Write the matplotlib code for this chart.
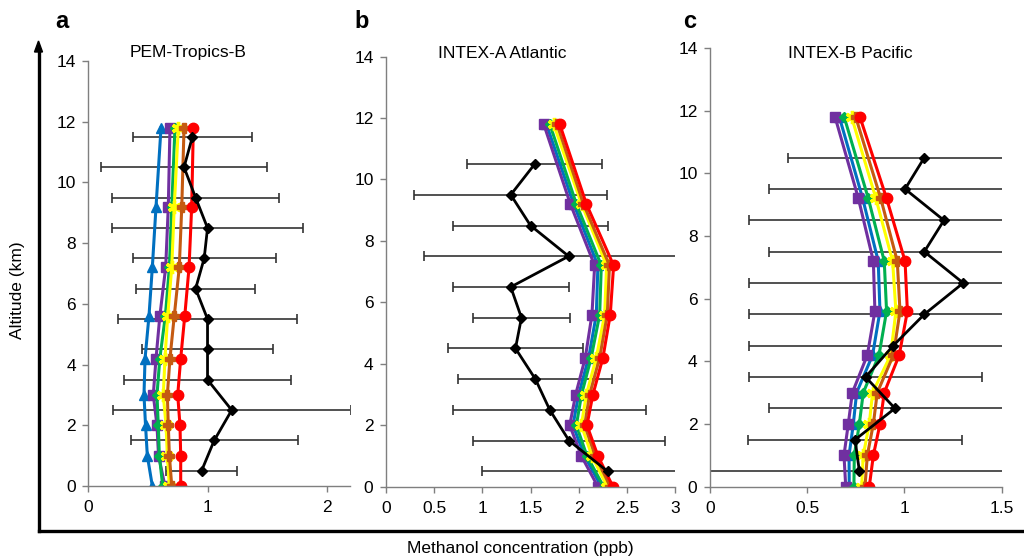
import matplotlib
matplotlib.use("Agg")
import matplotlib.pyplot as plt
from matplotlib.lines import Line2D

plt.rcParams['font.family'] = ['Liberation Sans', 'DejaVu Sans']

# ---------------- data ----------------
levels = [0, 1, 2, 3, 4.2, 5.6, 7.2, 9.2, 11.8]
obs_alt_a = [0.5, 1.5, 2.5, 3.5, 4.5, 5.5, 6.5, 7.5, 8.5, 9.5, 10.5, 11.5]
obs_alt_bc = [0.5, 1.5, 2.5, 3.5, 4.5, 5.5, 6.5, 7.5, 8.5, 9.5, 10.5]

series_names = ["blue", "purple", "green", "yellow", "orange", "red"]

a_blue = [0.537, 0.495, 0.48, 0.467, 0.476, 0.509, 0.537, 0.568, 0.61]
a_purple = [0.643, 0.589, 0.576, 0.545, 0.568, 0.60, 0.649, 0.671, 0.685]
a_green = [0.624, 0.596, 0.587, 0.576, 0.60, 0.646, 0.68, 0.70, 0.727]
a_yellow = [0.68, 0.663, 0.652, 0.629, 0.643, 0.666, 0.70, 0.721, 0.755]
a_orange = [0.70, 0.68, 0.671, 0.663, 0.685, 0.721, 0.763, 0.784, 0.803]
a_red = [0.775, 0.775, 0.769, 0.75, 0.775, 0.809, 0.845, 0.867, 0.881]
a_obs = [0.95, 1.056, 1.203, 1.0, 1.0, 1.0, 0.90, 0.972, 1.0, 0.90, 0.803, 0.873]
a_std = [0.30, 0.70, 1.0, 0.70, 0.55, 0.75, 0.50, 0.60, 0.80, 0.70, 0.70, 0.50]

b_blue = [2.235, 2.062, 1.941, 2.0, 2.104, 2.183, 2.20, 1.948, 1.665]
b_purple = [2.20, 2.028, 1.907, 1.969, 2.069, 2.138, 2.166, 1.914, 1.637]
b_green = [2.259, 2.086, 1.976, 2.03, 2.13, 2.218, 2.235, 1.976, 1.70]
b_yellow = [2.297, 2.138, 2.028, 2.08, 2.183, 2.27, 2.29, 2.03, 1.74]
b_orange = [2.328, 2.173, 2.062, 2.114, 2.218, 2.297, 2.32, 2.05, 1.775]
b_red = [2.356, 2.20, 2.086, 2.148, 2.252, 2.328, 2.363, 2.08, 1.803]
b_obs = [2.30, 1.90, 1.70, 1.551, 1.344, 1.406, 1.295, 1.896, 1.50, 1.295, 1.544]
b_std = [1.3, 1.0, 1.0, 0.80, 0.70, 0.50, 0.60, 1.50, 0.80, 1.0, 0.70]

c_blue = [0.716, 0.715, 0.737, 0.754, 0.836, 0.874, 0.865, 0.785, 0.665]
c_purple = [0.698, 0.689, 0.711, 0.732, 0.809, 0.848, 0.84, 0.763, 0.643]
c_green = [0.74, 0.742, 0.768, 0.788, 0.869, 0.908, 0.896, 0.814, 0.69]
c_yellow = [0.78, 0.788, 0.819, 0.836, 0.929, 0.956, 0.939, 0.853, 0.728]
c_orange = [0.797, 0.809, 0.84, 0.86, 0.943, 0.977, 0.963, 0.878, 0.749]
c_red = [0.819, 0.84, 0.874, 0.896, 0.973, 1.015, 1.003, 0.908, 0.771]
c_obs = [0.768, 0.746, 0.951, 0.80, 0.942, 1.102, 1.302, 1.102, 1.203, 1.003, 1.102]
c_std = [0.9, 0.55, 0.65, 0.60, 0.74, 0.90, 1.10, 0.80, 1.0, 0.70, 0.70]

panel_titles = ["PEM-Tropics-B", "INTEX-A Atlantic", "INTEX-B Pacific"]
panel_letters = ["a", "b", "c"]
xticks_a = [0, 1, 2]
xticks_b = [0, 0.5, 1, 1.5, 2, 2.5, 3]
xticks_c = [0, 0.5, 1, 1.5]
xticklabels_a = ["0", "1", "2"]
xticklabels_b = ["0", "0.5", "1", "1.5", "2", "2.5", "3"]
xticklabels_c = ["0", "0.5", "1", "1.5"]
yticks = [0, 2, 4, 6, 8, 10, 12, 14]

# ---------------- styles ----------------
styles = {
    "blue": dict(color="#0070C0", marker="^", ms=6.5),
    "purple": dict(color="#7030A0", marker="s", ms=6.5),
    "green": dict(color="#00B050", marker="D", ms=5.5),
    "yellow": dict(color="#FFFF00", marker=(6, 2, 0), ms=9.5, mew=2.4),
    "orange": dict(color="#C55A11", marker="P", ms=7.5),
    "red": dict(color="#FF0000", marker="o", ms=7.5),
}

fig = plt.figure(figsize=(10.24, 5.59), dpi=100)

W, H = 1024.0, 559.0
def rect(l, r, t, b):
    return [l / W, (H - b) / H, (r - l) / W, (b - t) / H]

panels = [
    dict(rect=rect(88.3, 350, 61, 486), xlim=(0, 2.195), xt=xticks_a, xtl=xticklabels_a,
         model=[a_blue, a_purple, a_green, a_yellow, a_orange, a_red],
         obs=a_obs, std=a_std, alt=obs_alt_a, title_x=188, letter_x=62),
    dict(rect=rect(386, 675, 56.5, 486.7), xlim=(0, 3), xt=xticks_b, xtl=xticklabels_b,
         model=[b_blue, b_purple, b_green, b_yellow, b_orange, b_red],
         obs=b_obs, std=b_std, alt=obs_alt_bc, title_x=502, letter_x=362),
    dict(rect=rect(710, 1001.7, 48, 486.7), xlim=(0, 1.5), xt=xticks_c, xtl=xticklabels_c,
         model=[c_blue, c_purple, c_green, c_yellow, c_orange, c_red],
         obs=c_obs, std=c_std, alt=obs_alt_bc, title_x=850, letter_x=690),
]

spine_col = "#7f7f7f"
for i, p in enumerate(panels):
    ax = fig.add_axes(p["rect"])
    ax.errorbar(p["obs"], p["alt"], xerr=p["std"], fmt="none", ecolor="#333333",
                elinewidth=1.2, capsize=3.5, capthick=1.2, zorder=1)
    for name, vals in zip(series_names, p["model"]):
        st = styles[name]
        ax.plot(vals, levels, color=st["color"], lw=2.2, marker=st["marker"],
                ms=st["ms"], mew=st.get("mew", 1), mec=st["color"], mfc=st["color"], zorder=2)
    ax.plot(p["obs"], p["alt"], color="black", lw=2.0, marker="D", ms=5.5, zorder=3)
    ax.set_xlim(*p["xlim"])
    ax.set_ylim(0, 14)
    ax.set_xticks(p["xt"])
    ax.set_xticklabels(p["xtl"])
    ax.set_yticks(yticks)
    for s in ["top", "right"]:
        ax.spines[s].set_visible(False)
    for s in ["left", "bottom"]:
        ax.spines[s].set_color(spine_col)
        ax.spines[s].set_linewidth(1.0)
    ax.tick_params(direction="out", length=4, width=1.0, color=spine_col,
                   labelsize=12.5, labelcolor="black")
    ax.tick_params(axis="x", pad=6)
    ax.tick_params(axis="y", pad=5)
    ax.patch.set_alpha(0)
    fig.text(p["title_x"] / W, (H - 53) / H, panel_titles[i], ha="center", va="center", fontsize=12.5)
    fig.text(p["letter_x"] / W, (H - 21) / H, panel_letters[i], ha="center", va="center",
             fontsize=17, fontweight="bold")

# big axis frame with arrow
x0 = 38.5 / W
y0 = (H - 531) / H
fig.add_artist(Line2D([x0, 1.0], [y0, y0], color="black", lw=2.4, transform=fig.transFigure,
                      solid_capstyle="projecting"))
fig.add_artist(Line2D([x0, x0], [y0, (H - 50) / H], color="black", lw=2.4, transform=fig.transFigure,
                      solid_capstyle="projecting"))
fig.patches.append(matplotlib.patches.Polygon(
    [[x0 - 4 / W, (H - 52) / H], [x0 + 4 / W, (H - 52) / H], [x0, (H - 41) / H]],
    closed=True, color="black", transform=fig.transFigure, figure=fig))

fig.text(18 / W, (H - 290) / H, "Altitude (km)", rotation=90, ha="center", va="center", fontsize=12.5)
fig.text(520 / W, (H - 548) / H, "Methanol concentration (ppb)", ha="center", va="center", fontsize=12.5)

fig.savefig("out.png", dpi=100)
